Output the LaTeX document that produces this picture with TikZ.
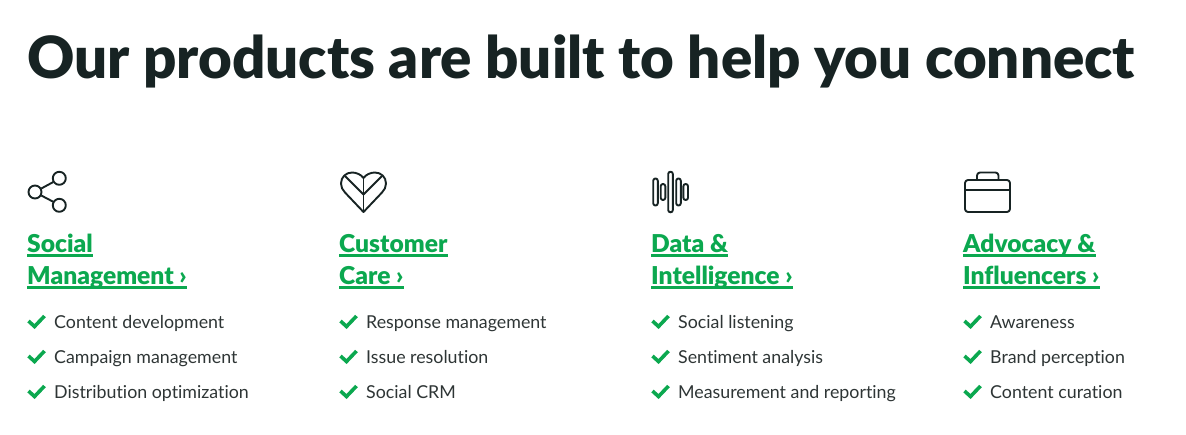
\documentclass[tikz,border=0pt]{standalone}
\usepackage{fontspec}
\setmainfont[Ligatures=NoCommon,BoldFont={Lato Black}]{Lato}
\definecolor{inkdark}{HTML}{172323}
\definecolor{linkgreen}{HTML}{0BA84F}
\definecolor{itemgray}{HTML}{2E3535}
\begin{document}
\begin{tikzpicture}[
      x=1pt, y=-1pt,
      heading/.style={anchor=base west, inner sep=0pt, font=\fontsize{58.2}{60}\selectfont\bfseries, text=inkdark},
      linktext/.style={anchor=base west, inner sep=0pt, font=\fontsize{24.6}{26}\selectfont\bfseries, text=linkgreen},
      itemtext/.style={anchor=base west, inner sep=0pt, font=\fontsize{17.8}{20}\selectfont, text=itemgray},
      icon/.style={draw=inkdark, line width=1.9pt, line join=round},
      checkmark/.style={draw=linkgreen, line width=3.6pt}
    ]
      \useasboundingbox (0,0) rectangle (1186,434);
      \node[heading] (title) at (27,78) {Our products are built to help you connect};

      % the four columns
      \foreach \k/\cx/\one/\two/\aa/\bb/\cc in {
        1/27/Social/Management ›/Content development/Campaign management/Distribution optimization,
        2/339/Customer/Care ›/Response management/Issue resolution/Social CRM,
        3/651/Data \&/Intelligence ›/Social listening/Sentiment analysis/Measurement and reporting,
        4/963/Advocacy \&/Influencers ›/Awareness/Brand perception/Content curation} {
        \node[linktext] (one\k) at (\cx,252) {\one};
        \node[linktext] (two\k) at (\cx,284) {\two};
        \draw[linkgreen, line width=2.2pt] ([yshift=-3.5pt]one\k.base west) -- ([yshift=-3.5pt]one\k.base east);
        \draw[linkgreen, line width=2.2pt] ([yshift=-3.5pt]two\k.base west) -- ([yshift=-3.5pt]two\k.base east);
        \node[itemtext] (itema\k) at (\cx+27,328) {\aa};
        \node[itemtext] (itemb\k) at (\cx+27,363) {\bb};
        \node[itemtext] (itemc\k) at (\cx+27,398) {\cc};
        \foreach \yy in {321,356,391} {
          \draw[checkmark] (\cx+1.5,\yy) -- (\cx+7.5,\yy+5.5) -- (\cx+17.5,\yy-5);
        }
      }

      % share icon
      \draw[icon] (35,192) circle (6.5) (59.3,178.3) circle (6.5) (59.3,205.3) circle (6.5);
      \draw[icon] (41.3,188.5) -- (53.3,182) (41.3,195.5) -- (53.3,201.8);

      % heart icon
      \draw[icon] (363.5,212) -- (345,192.5)
        .. controls (342.5,190) and (341,187) .. (341,183.5)
        .. controls (341,177) and (346,172.5) .. (352,172.5)
        .. controls (356.5,172.5) and (361,174.5) .. (363.5,178)
        .. controls (366,174.5) and (370.5,172.5) .. (375,172.5)
        .. controls (381,172.5) and (386,177) .. (386,183.5)
        .. controls (386,187) and (384.5,190) .. (382,192.5) -- cycle;
      \draw[icon] (363.5,178) -- (363.5,212);
      \draw[icon] (345,176) -- (363.5,194.5) -- (382,176);

      % bars icon
      \foreach \bx/\bh in {655.5/13.5, 663/8, 670.5/20.3, 678.5/13.5, 685.7/8} {
        \draw[icon, rounded corners=2.2pt] (\bx-2.3,192-\bh) rectangle (\bx+2.3,192+\bh);
      }

      % case icon
      \draw[icon, rounded corners=3pt] (965,180) rectangle (1010,212);
      \draw[icon] (965,190) -- (1010,190);
      \draw[icon, rounded corners=3pt] (977,180) -- (977,172.5) -- (998.5,172.5) -- (998.5,180);
    \end{tikzpicture}
\end{document}
